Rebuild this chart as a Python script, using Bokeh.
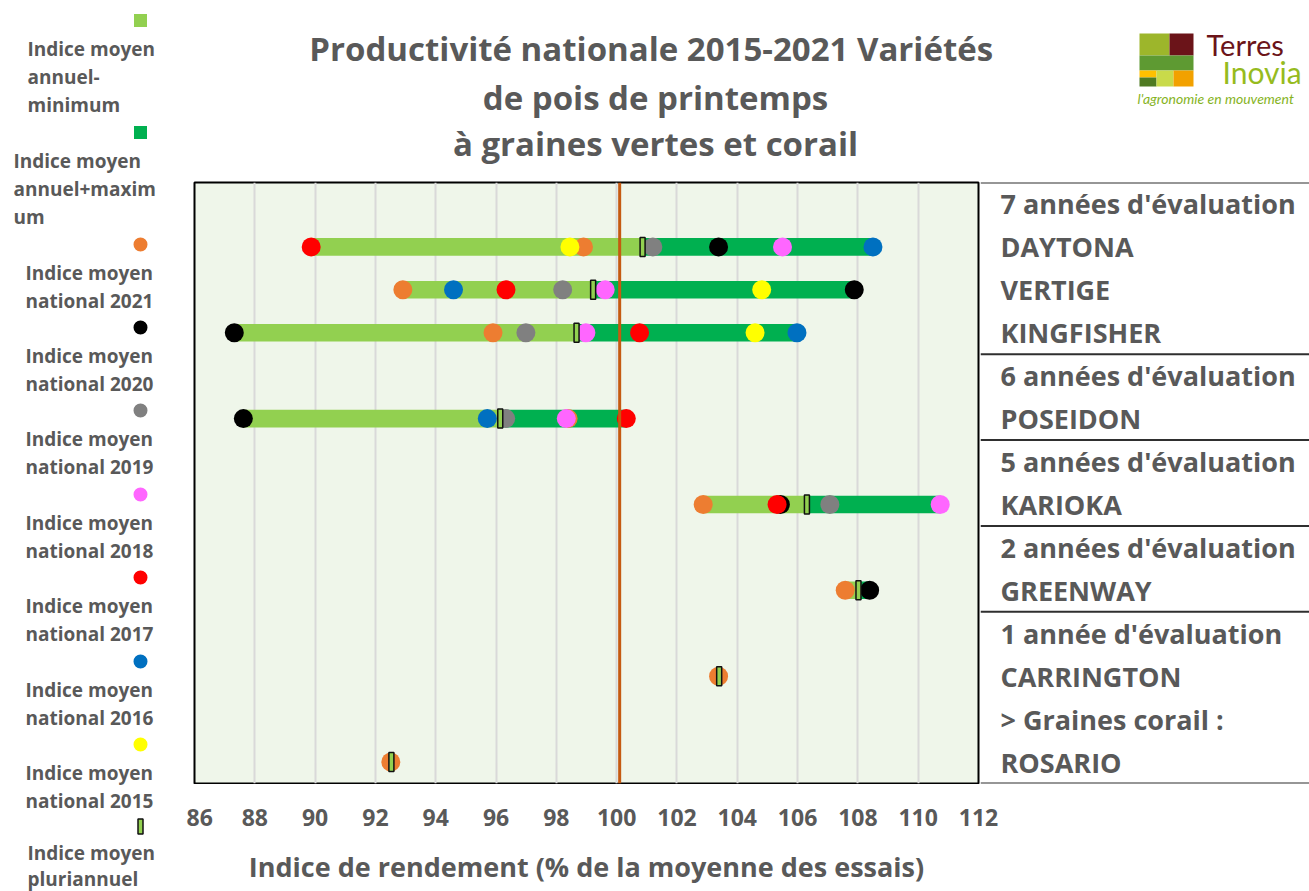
from bokeh.plotting import figure
from bokeh.models import Range1d, Span, FixedTicker, ColumnDataSource
from bokeh.layouts import row, column
from bokeh.embed import file_html
from bokeh.resources import INLINE
from bokeh.core.properties import value
import math

NaN = float("nan")

# ---------------- data ----------------
table_lines = ["7 années d'évaluation", "DAYTONA", "VERTIGE", "KINGFISHER",
               "6 années d'évaluation", "POSEIDON",
               "5 années d'évaluation", "KARIOKA",
               "2 années d'évaluation", "GREENWAY",
               "1 année d'évaluation", "CARRINGTON",
               "> Graines corail :", "ROSARIO"]
varieties = ["DAYTONA", "VERTIGE", "KINGFISHER", "POSEIDON", "KARIOKA",
             "GREENWAY", "CARRINGTON", "ROSARIO"]
idx_min = [89.87, 92.91, 87.32, 87.62, 102.87, 107.58, 103.38, 92.51]
idx_max = [108.50, 107.88, 105.98, 100.32, 110.73, 108.39, 103.38, 92.51]
idx_pluri = [100.86, 99.22, 98.67, 96.14, 106.31, 108.02, 103.40, 92.53]
y2015 = [98.45, 104.81, 104.59, NaN, NaN, NaN, NaN, NaN]
y2016 = [108.50, 94.59, 105.98, 95.71, NaN, NaN, NaN, NaN]
y2017 = [89.87, 96.33, 100.76, 100.32, 105.32, NaN, NaN, NaN]
y2018 = [105.50, 99.62, 98.98, 98.33, 110.73, NaN, NaN, NaN]
y2019 = [101.20, 98.21, 96.99, 96.32, 107.07, NaN, NaN, NaN]
y2020 = [103.38, 107.88, 87.32, 87.62, 105.43, 108.39, NaN, NaN]
y2021 = [98.90, 92.91, 95.90, 98.39, 102.87, 107.58, 103.38, 92.51]
ref_line = 100.1
x_ticks = [86, 88, 90, 92, 94, 96, 98, 100, 102, 104, 106, 108, 110, 112]

title_lines = ["Productivité nationale  2015-2021 Variétés",
               "de pois de printemps",
               "à graines vertes et corail"]
x_title = "Indice de rendement (% de la moyenne des essais)"

# ---------------- styles ----------------
GRAY = "#595959"
FONT = "Open Sans"
C_MIN = "#92D050"
C_MAX = "#00B050"
year_series = [  # drawing order (last on top)
    ("2021", y2021, "#ED7D31"),
    ("2020", y2020, "#000000"),
    ("2019", y2019, "#808080"),
    ("2018", y2018, "#FF66FF"),
    ("2017", y2017, "#FF0000"),
    ("2016", y2016, "#0070C0"),
    ("2015", y2015, "#FFFF00"),
]

n_slots = len(table_lines)
ys = [table_lines.index(v) + 0.5 for v in varieties]


def blank(fig):
    fig.outline_line_color = None
    fig.xgrid.visible = False
    fig.ygrid.visible = False
    return fig


# ---------------- main chart (plot area) ----------------
main = figure(width=794, height=604, x_range=Range1d(86, 112),
              y_range=Range1d(n_slots, 0),
              toolbar_location=None, output_backend="svg",
              min_border_left=8, min_border_right=2, min_border_top=2,
              min_border_bottom=1, x_axis_location=None, y_axis_location=None,
              background_fill_color="#EFF6EA", border_fill_color="white")
main.outline_line_color = "black"
main.outline_line_width = 2
main.xgrid.ticker = FixedTicker(ticks=x_ticks)
main.xgrid.grid_line_color = "#D9D9D9"
main.xgrid.grid_line_width = 2
main.ygrid.visible = False

src = ColumnDataSource(dict(y=ys, lo=idx_min, mid=idx_pluri, hi=idx_max))
main.hbar(y="y", left="lo", right="mid", height=0.41, fill_color=C_MIN,
          line_color=None, source=src)
main.hbar(y="y", left="mid", right="hi", height=0.41, fill_color=C_MAX,
          line_color=None, source=src)

for name, vals, col in year_series:
    xs = [v for v in vals if not math.isnan(v)]
    yy = [y for v, y in zip(vals, ys) if not math.isnan(v)]
    main.scatter(x=xs, y=yy, size=19, fill_color=col, line_color=None)

main.rect(x=idx_pluri, y=ys, width=5, height=19, width_units="screen",
          height_units="screen", fill_color=C_MIN, line_color="#111111",
          line_width=1.5)

main.add_layout(Span(location=ref_line, dimension="height",
                     line_color="#C55A11", line_width=3))

# ---------------- x axis (full width so end labels are not cut) ----------------
axf = figure(width=1123, height=107, x_range=main.x_range, y_range=Range1d(0, 1),
             toolbar_location=None, output_backend="svg",
             min_border_left=8, min_border_right=331, min_border_top=0,
             min_border_bottom=106, y_axis_location=None)
blank(axf)
ax = axf.xaxis[0]
ax.ticker = FixedTicker(ticks=x_ticks)
ax.axis_line_color = None
ax.major_tick_line_color = None
ax.minor_tick_line_color = None
ax.major_label_text_font = FONT
ax.major_label_text_font_style = "bold"
ax.major_label_text_font_size = "23px"
ax.major_label_text_color = GRAY
ax.major_label_standoff = 17
ax.axis_label = x_title
ax.axis_label_text_font = FONT
ax.axis_label_text_font_style = "bold"
ax.axis_label_text_font_size = "27px"
ax.axis_label_text_color = GRAY
ax.axis_label_standoff = 19

# ---------------- right table ----------------
tab = figure(width=329, height=604, x_range=Range1d(0, 329),
             y_range=main.y_range, toolbar_location=None, output_backend="svg",
             min_border_left=0, min_border_right=0, min_border_top=2,
             min_border_bottom=1, x_axis_location=None, y_axis_location=None)
blank(tab)
seps = [i for i, t in enumerate(table_lines) if "évaluation" in t] + [n_slots]
tab.segment(x0=[0] * len(seps), x1=[329] * len(seps), y0=seps, y1=seps,
            line_color="#2F2F2F", line_width=2)
tab.text(x=[20] * n_slots, y=[i + 0.5 for i in range(n_slots)], text=table_lines,
         text_font=value(FONT), text_font_style="bold", text_font_size="27px",
         text_color=GRAY, text_align="left", text_baseline="middle")

# ---------------- title band ----------------
tit = figure(width=1123, height=180, x_range=Range1d(186, 1309),
             y_range=Range1d(180, 0), toolbar_location=None,
             output_backend="svg", min_border=0,
             x_axis_location=None, y_axis_location=None)
blank(tit)
tit.text(x=[655] * 3, y=[48, 97, 143], text=title_lines,
         text_font=value(FONT), text_font_style="bold", text_font_size="33px",
         text_color=GRAY, text_align="center", text_baseline="middle")

# logo
logo_l = [1139, 1169, 1139, 1139, 1139, 1156, 1173]
logo_r = [1169, 1193, 1193, 1156, 1156, 1173, 1193]
logo_t = [33, 33, 55, 70, 77, 70, 70]
logo_b = [55, 55, 70, 77, 86, 86, 86]
logo_c = ["#9DB62B", "#6B1419", "#5E9A32", "#FFC000", "#4F7A22", "#C9DA4A", "#F2A100"]
tit.quad(left=logo_l, right=logo_r, top=logo_t, bottom=logo_b,
         fill_color=logo_c, line_color=None)
tit.text(x=[1206], y=[44], text=["Terres"], text_font=value("Lato"),
         text_font_size="29px", text_color="#6B1419", text_align="left",
         text_baseline="middle")
tit.text(x=[1222], y=[71], text=["Inovia"], text_font=value("Lato"),
         text_font_size="30px", text_color="#96BB1E", text_align="left",
         text_baseline="middle")
tit.text(x=[1137], y=[98], text=["l'agronomie en mouvement"], text_font=value("Lato"),
         text_font_size="14px", text_font_style="italic", text_color="#86B31E",
         text_align="left", text_baseline="middle")

# ---------------- left legend ----------------
legend_items = [
    ("square", C_MIN, ["Indice moyen", "annuel-", "minimum"]),
    ("square", C_MAX, ["Indice moyen", "annuel+maxim", "um"]),
    ("circle", "#ED7D31", ["Indice moyen", "national 2021"]),
    ("circle", "#000000", ["Indice moyen", "national 2020"]),
    ("circle", "#808080", ["Indice moyen", "national 2019"]),
    ("circle", "#FF66FF", ["Indice moyen", "national 2018"]),
    ("circle", "#FF0000", ["Indice moyen", "national 2017"]),
    ("circle", "#0070C0", ["Indice moyen", "national 2016"]),
    ("circle", "#FFFF00", ["Indice moyen", "national 2015"]),
    ("pluri", C_MIN, ["Indice moyen", "pluriannuel"]),
]
leg_marker_y = [20, 132, 244, 327, 410, 494, 577, 661, 744, 826]
leg_text_x = [27, 13, 25, 25, 25, 25, 25, 25, 25, 27]
leg_line_gap = [28, 28, 28, 28, 28, 28, 28, 28, 28, 26]

leg = figure(width=186, height=891, x_range=Range1d(0, 186),
             y_range=Range1d(891, 0), toolbar_location=None,
             output_backend="svg", min_border=0,
             x_axis_location=None, y_axis_location=None)
blank(leg)
for (kind, col, lines), my, tx, gap in zip(legend_items, leg_marker_y,
                                           leg_text_x, leg_line_gap):
    if kind == "square":
        leg.scatter(x=[140], y=[my], marker="square", size=13, fill_color=col,
                    line_color=None)
    elif kind == "circle":
        leg.scatter(x=[140], y=[my], marker="circle", size=14, fill_color=col,
                    line_color=None)
    else:
        leg.rect(x=[140], y=[my], width=5, height=15, width_units="screen",
                 height_units="screen", fill_color=col, line_color="#111111",
                 line_width=1.5)
    leg.text(x=[tx] * len(lines), y=[my + gap * (k + 1) for k in range(len(lines))],
             text=lines, text_font=value(FONT), text_font_style="bold",
             text_font_size="19px", text_color=GRAY, text_align="left",
             text_baseline="middle")

# each figure wrapped in its own row so that frames are not aligned across siblings
layout = row(leg, column(row(tit), row(main, tab), row(axf)))

open("out.html", "w").write(file_html(layout, INLINE))
